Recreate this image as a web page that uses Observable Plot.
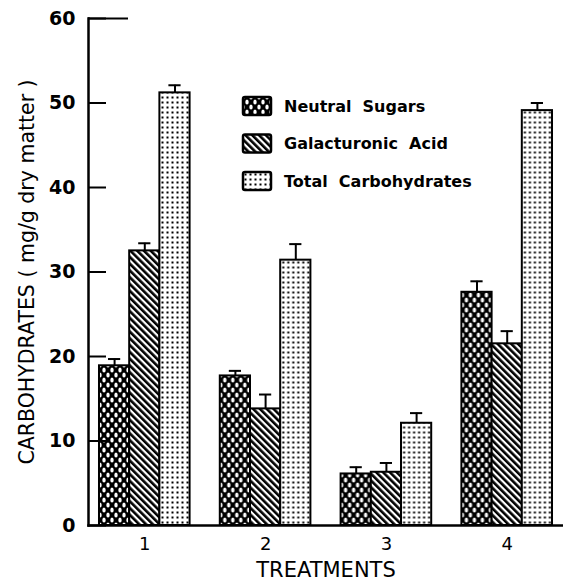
<!DOCTYPE html>
<html><head><meta charset="utf-8">
<script src="https://cdn.jsdelivr.net/npm/d3@7"></script>
<script src="https://cdn.jsdelivr.net/npm/@observablehq/plot@0.6"></script>
<style>body{margin:0;background:#fff}</style>
</head><body><div id="chart"></div>
<script>
const treatments = ["1", "2", "3", "4"];
const series = ["Neutral Sugars", "Galacturonic Acid", "Total Carbohydrates"];
const legendLabels = ["Neutral  Sugars", "Galacturonic  Acid", "Total  Carbohydrates"];
const neutralSugars = [18.9, 17.7, 6.1, 27.6];
const neutralSugarsErr = [0.8, 0.6, 0.8, 1.3];
const galacturonicAcid = [32.5, 13.8, 6.3, 21.5];
const galacturonicAcidErr = [0.9, 1.7, 1.1, 1.5];
const totalCarbohydrates = [51.2, 31.4, 12.1, 49.1];
const totalCarbohydratesErr = [0.9, 1.9, 1.2, 0.9];
const yTicks = [0, 10, 20, 30, 40, 50, 60];
const yLabel = "CARBOHYDRATES ( mg/g dry matter )";
const xLabel = "TREATMENTS";

const values = [neutralSugars, galacturonicAcid, totalCarbohydrates];
const errors = [neutralSugarsErr, galacturonicAcidErr, totalCarbohydratesErr];
const data = treatments.flatMap((t, i) => series.map((s, j) => ({t, s, v: values[j][i], e: errors[j][i]})));
const patterns = ["url(#pat-ns)", "url(#pat-ga)", "url(#pat-tc)"];

const chart = Plot.plot({
  width: 563, height: 582,
  marginLeft: 88, marginRight: 0, marginTop: 18, marginBottom: 57,
  style: {fontFamily: "'DejaVu Sans', sans-serif", color: "black", background: "white"},
  fx: {domain: treatments, paddingInner: 0.068, paddingOuter: 0, round: false},
  x: {domain: series, paddingInner: 0, paddingOuter: 0.364, round: false, axis: null},
  y: {domain: [0, 60]},
  color: {domain: series, range: patterns},
  marks: [
    Plot.barY(data, {fx: "t", x: "s", y: "v", fill: "s", stroke: "black", strokeWidth: 2}),
    Plot.ruleX(data, {fx: "t", x: "s", y1: "v", y2: d => d.v + d.e, strokeWidth: 2}),
    Plot.tickY(data, {fx: "t", x: "s", y: d => d.v + d.e, insetLeft: 9, insetRight: 9, strokeWidth: 2}),
    Plot.axisY(yTicks, {tickSize: 18, dx: 18, fill: "none", strokeWidth: 2}),
    Plot.axisY([60], {tickSize: 40, dx: 40, fill: "none", strokeWidth: 2}),
    Plot.axisY(yTicks, {tickSize: 0, tickPadding: 13, fontSize: 19, fontWeight: "bold", label: null}),
    Plot.axisFx({anchor: "bottom", tickSize: 0, tickPadding: 12, fontSize: 18, label: null}),
    Plot.frame({anchor: "bottom", facet: "super", strokeWidth: 2.5}),
    Plot.frame({anchor: "left", facet: "super", strokeWidth: 2.5}),
    Plot.text([yLabel], {text: d => d, frameAnchor: "left", textAnchor: "middle", rotate: -90, dx: -61, fontSize: 20.5, facet: "super"}),
    Plot.text([xLabel], {text: d => d, frameAnchor: "bottom", lineAnchor: "middle", dy: 45, fontSize: 21, facet: "super"})
  ]
});

const svg = d3.select(chart);
const defs = svg.insert("defs", ":first-child");
const ns = defs.append("pattern").attr("id", "pat-ns").attr("patternUnits", "userSpaceOnUse").attr("width", 8).attr("height", 10);
ns.append("rect").attr("width", 8).attr("height", 10).attr("fill", "black");
[[0, 0], [8, 0], [0, 10], [8, 10], [4, 5]].forEach(([cx, cy]) =>
  ns.append("ellipse").attr("cx", cx).attr("cy", cy).attr("rx", 1.7).attr("ry", 2.6).attr("fill", "white"));
const ga = defs.append("pattern").attr("id", "pat-ga").attr("patternUnits", "userSpaceOnUse")
  .attr("width", 4.8).attr("height", 10).attr("patternTransform", "rotate(-45)");
ga.append("rect").attr("width", 4.8).attr("height", 10).attr("fill", "white");
ga.append("rect").attr("width", 2.6).attr("height", 10).attr("fill", "black");
const tc = defs.append("pattern").attr("id", "pat-tc").attr("patternUnits", "userSpaceOnUse").attr("width", 5).attr("height", 5);
tc.append("rect").attr("width", 5).attr("height", 5).attr("fill", "white");
tc.append("rect").attr("x", 1.5).attr("y", 1.5).attr("width", 2).attr("height", 2).attr("fill", "black");

const legend = svg.append("g").attr("class", "legend").attr("text-anchor", "start");
series.forEach((s, i) => {
  const g = legend.append("g").attr("transform", `translate(243,${97 + i * 37.5})`);
  g.append("rect").attr("width", 28).attr("height", 18).attr("rx", 2)
    .attr("fill", patterns[i]).attr("stroke", "black").attr("stroke-width", 2.5);
  g.append("text").attr("x", 41).attr("y", 9).attr("dy", "0.36em").attr("text-anchor", "start")
    .attr("font-size", 16).attr("font-weight", "bold").style("white-space", "pre")
    .text(legendLabels[i]);
});

document.getElementById("chart").append(chart);
</script>
</body></html>
